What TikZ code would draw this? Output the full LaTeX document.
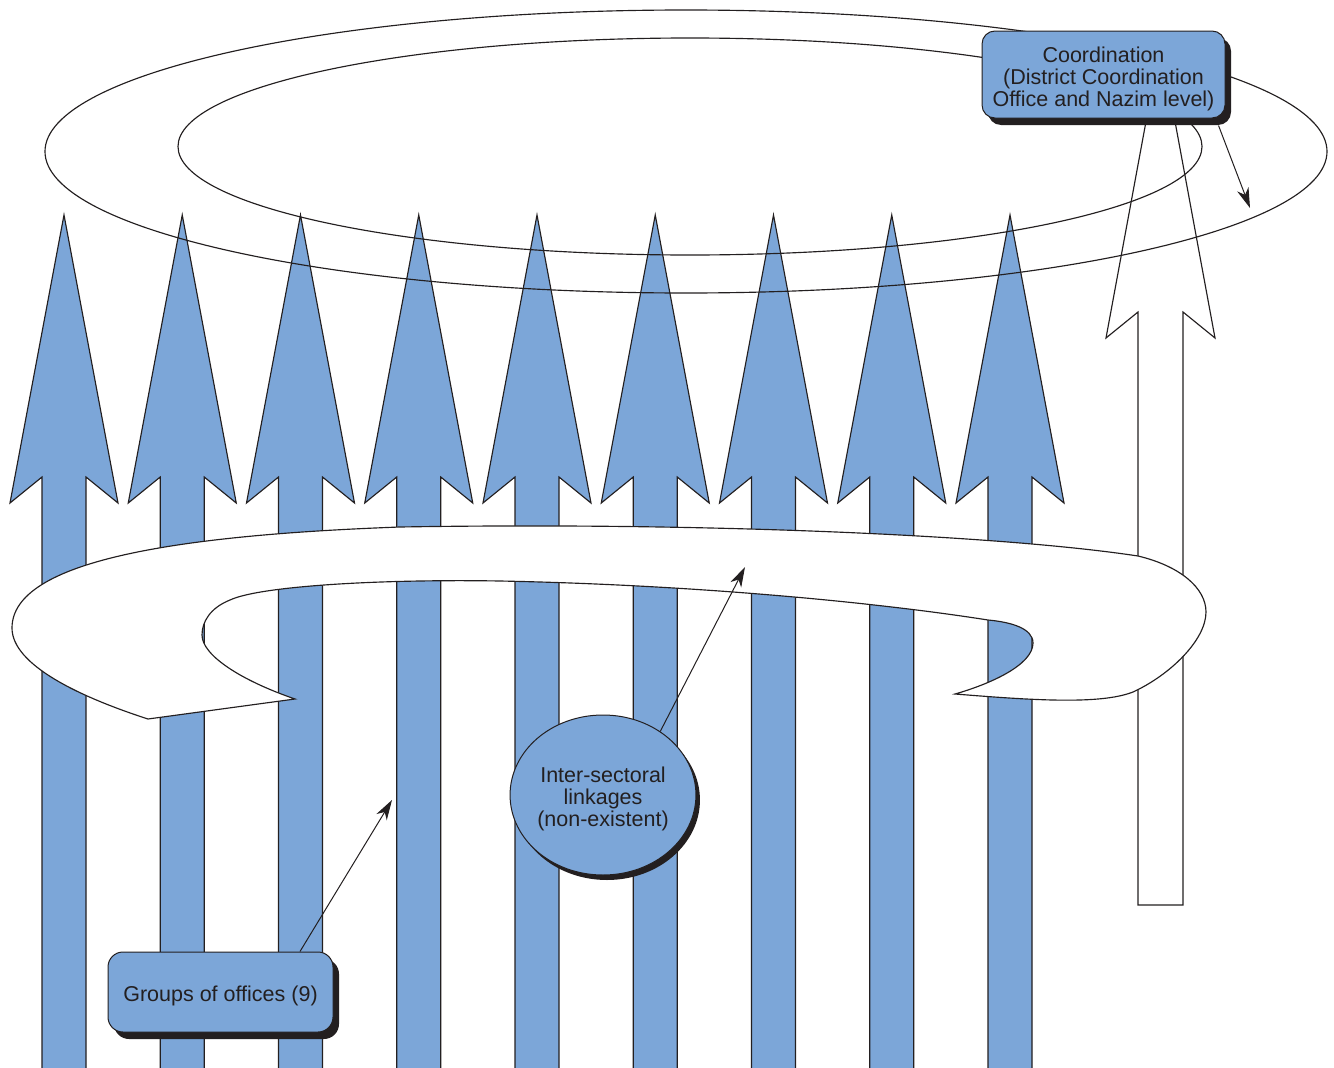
\documentclass[tikz,border=0pt]{standalone}
\usepackage{fontspec}
\setmainfont{Liberation Sans}
\usetikzlibrary{shapes.geometric,shadows,arrows.meta}
\definecolor{office}{RGB}{124,166,216}
\definecolor{ink}{RGB}{35,31,32}
% centred block of label lines, set slightly below the optical centre
\newcommand\labellines[1]{\raisebox{-5pt}[\height][\depth]{\begin{tabular}{@{}c@{}}#1\end{tabular}}}
\begin{document}
\begin{tikzpicture}[x=1pt,y=-1pt,
  outline/.style={draw=ink, line width=1.15pt, line join=miter},
  officearrow/.style={outline, fill=office},
  plainarrow/.style={outline, fill=white},
  labeltext/.style={text=ink, font=\fontsize{21.5}{21.5}\selectfont, inner sep=0pt},
  labelbox/.style={labeltext, rectangle, rounded corners=13pt, fill=office, draw=ink, line width=1pt,
    drop shadow={shadow xshift=6pt, shadow yshift=-7pt, fill=ink, opacity=1}},
  bubble/.style={labeltext, ellipse, fill=office, draw=ink, line width=1pt,
    minimum width=179pt, minimum height=160pt,
    drop shadow={shadow xshift=4pt, shadow yshift=-5pt, fill=ink, opacity=1}},
  ann/.style={draw=ink, line width=1pt, -{Stealth[length=20pt,width=12pt,inset=6pt]}}]
\useasboundingbox (0,0) rectangle (1334,1068);
\clip (0,0) rectangle (1334,1068);

% white coordination arrow rising behind the swirl
\path[plainarrow] (1138,905) -- (1138,312) -- (1106,338) -- (1160.5,43)
  -- (1215,338) -- (1183,312) -- (1183,905) -- cycle;

% nine office arrows
\foreach \i in {0,...,8} {
  \pgfmathsetmacro\c{64+118.25*\i}
  \path[officearrow] (\c-22,1090) -- (\c-22,477) -- (\c-54,503) -- (\c,215)
    -- (\c+54,503) -- (\c+22,477) -- (\c+22,1090) -- cycle;
}

% open swirl band around the shafts
\path[outline, fill=white]
  (148,719) .. controls (80,697) and (12,665) .. (12,628)
  .. controls (12,560) and (180,535) .. (400,527)
  .. controls (700,522) and (1000,535) .. (1138,556)
  .. controls (1180,566) and (1206,588) .. (1206,612)
  .. controls (1206,640) and (1170,675) .. (1133,692)
  .. controls (1100,705) and (1030,700) .. (955,694)
  .. controls (990,684) and (1033,665) .. (1033,643)
  .. controls (1033,628) and (1010,622) .. (988,620)
  .. controls (880,603) and (700,585) .. (500,581)
  .. controls (380,579) and (260,586) .. (230,600)
  .. controls (210,608) and (202,622) .. (202,635)
  .. controls (202,655) and (240,680) .. (295,699)
  -- cycle;

% coordination rings
\draw[outline] (686,151.5) ellipse [x radius=641, y radius=141.5];
\draw[outline] (690,146.5) ellipse [x radius=512, y radius=108.5];

% labels
\node[labelbox, minimum width=243pt, minimum height=87pt] (coord) at (1103.5,74.5)
  {\labellines{Coordination\\(District Coordination\\Office and Nazim level)}};
\node[bubble] (links) at (603,795) {\labellines{Inter-sectoral\\linkages\\(non-existent)}};
\node[labelbox, rounded corners=15pt, minimum width=225pt, minimum height=80pt] (groups)
  at (220.5,992) {\labellines{Groups of offices (9)}};

% pointers
\coordinate (coordTip) at (1250,208);
\coordinate (linkTip) at (745,567);
\coordinate (groupTip) at (392,800);
\draw[ann] ([xshift=-7pt,yshift=-7pt]coord.south east) -- (coordTip);
\draw[ann] (links.48) -- (linkTip);
\draw[ann] (groups.27.5) -- (groupTip);
\end{tikzpicture}
\end{document}
